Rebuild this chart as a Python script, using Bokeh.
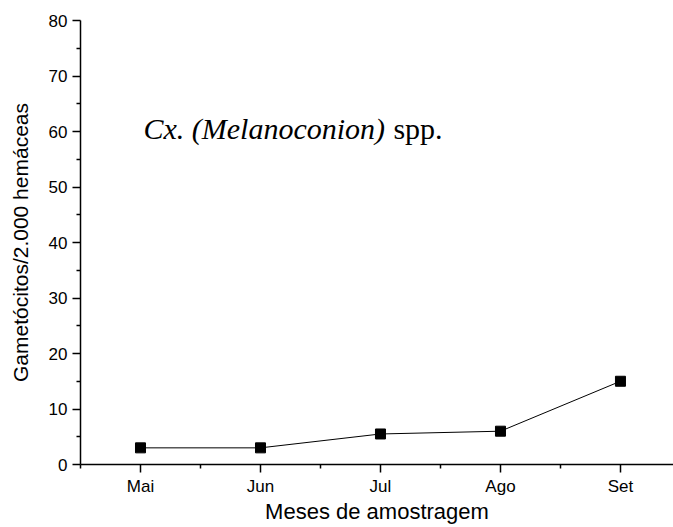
from bokeh.plotting import figure
from bokeh.models import FixedTicker, Range1d, Label, ColumnDataSource
from bokeh.embed import file_html
from bokeh.resources import INLINE

months = ["Mai", "Jun", "Jul", "Ago", "Set"]
values = [3, 3, 5.5, 6, 15]
y_ticks = [0, 10, 20, 30, 40, 50, 60, 70, 80]

xpos = list(range(1, len(months) + 1))
src = ColumnDataSource(dict(x=xpos, y=values))

p = figure(width=673, height=527, output_backend="svg", toolbar_location=None,
           x_range=Range1d(0.5, 5.442), y_range=Range1d(0, 80),
           min_border_left=80, min_border_right=0, min_border_top=20, min_border_bottom=63)
p.outline_line_color = None
p.xgrid.visible = False
p.ygrid.visible = False
p.background_fill_color = "white"
p.border_fill_color = "white"

p.line("x", "y", source=src, line_color="black", line_width=1)
p.scatter("x", "y", source=src, marker="square", size=10, fill_color="black", line_color="black")

font = "Liberation Sans"
xa = p.xaxis[0]
xa.ticker = FixedTicker(ticks=xpos, minor_ticks=[x - 0.5 for x in xpos] + [xpos[-1] + 0.5])
xa.major_label_overrides = {x: m for x, m in zip(xpos, months)}
xa.axis_label = "Meses de amostragem"
ya = p.yaxis[0]
ya.ticker = FixedTicker(ticks=y_ticks, minor_ticks=[t + 5 for t in y_ticks[:-1]])
ya.axis_label = "Gametócitos/2.000 hemáceas"

for ax in (xa, ya):
    ax.axis_line_color = "black"
    ax.axis_line_width = 1.5
    ax.major_tick_line_color = "black"
    ax.minor_tick_line_color = "black"
    ax.major_tick_line_width = 1.5
    ax.minor_tick_line_width = 1.5
    ax.major_tick_in = 0
    ax.major_tick_out = 8
    ax.minor_tick_in = 0
    ax.minor_tick_out = 4
    ax.major_label_text_font = font
    ax.major_label_text_font_size = "17px"
    ax.major_label_text_color = "black"
    ax.axis_label_text_font = font
    ax.axis_label_text_font_style = "normal"
    ax.axis_label_text_color = "black"

xa.axis_label_text_font_size = "22px"
xa.axis_label_standoff = 0
xa.major_label_standoff = 4
ya.axis_label_text_font_size = "21px"
ya.axis_label_standoff = 14
ya.major_label_standoff = 5

p.add_layout(Label(x=1.025, y=60.6, text="Cx. (Melanoconion)", text_font="Liberation Serif",
                   text_font_style="italic", text_font_size="30px", text_color="black",
                   text_baseline="alphabetic"))
p.add_layout(Label(x=3.108, y=60.6, text="spp.", text_font="Liberation Serif",
                   text_font_style="normal", text_font_size="30px", text_color="black",
                   text_baseline="alphabetic"))

open("out.html", "w").write(file_html(p, INLINE))
